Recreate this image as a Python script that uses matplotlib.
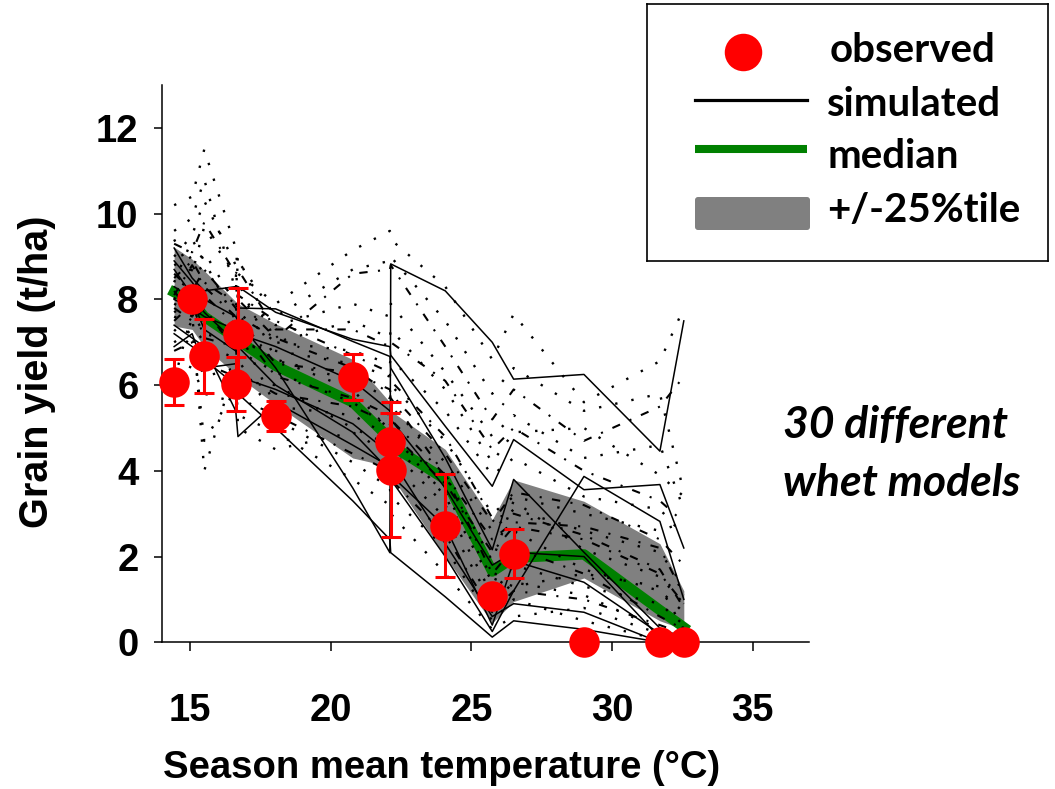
import numpy as np
import matplotlib
matplotlib.use("Agg")
import matplotlib.pyplot as plt
from matplotlib.patches import FancyBboxPatch

# site temperatures (sorted) and observed yields
temp = [14.43, 15.07, 15.5, 16.62, 16.7, 18.04, 20.78, 22.1, 22.13, 24.07, 25.74, 26.5, 29.0, 31.7, 32.55]
obs = [6.07, 8.0, 6.68, 6.02, 7.19, 5.28, 6.19, 4.68, 4.03, 2.72, 1.09, 2.07, 0.0, 0.0, 0.0]
obs_err = [0.54, 0.0, 0.86, 0.63, 1.07, 0.34, 0.53, 0.68, 1.57, 1.2, 0.0, 0.58, 0.0, 0.0, 0.0]

# median and +/-25 percentile band of the models
median = [8.17, 7.95, 7.6, 7.1, 7.05, 6.45, 5.6, 4.75, 4.6, 3.8, 1.65, 1.97, 2.05, 0.75, 0.35]
band_hi = [9.22, 8.94, 8.67, 7.95, 7.9, 7.43, 6.6, 5.6, 5.4, 4.5, 2.86, 3.79, 3.29, 2.3, 1.2]
band_lo = [7.38, 7.3, 6.9, 6.25, 6.2, 5.55, 4.3, 4.1, 3.9, 2.0, 0.45, 0.95, 1.5, 0.5, 0.3]

# 30 simulated models
sim_solid = [
    [8.9, 8.4, 8.0, 7.6, 7.5, 6.4, 3.6, 2.09, 8.83, 8.2, 7.0, 6.14, 6.25, 4.46, 7.5],
    [9.2, 8.5, 8.2, 8.3, 8.3, 7.7, 7.07, 6.9, 6.7, 5.04, 3.64, 4.73, 3.56, 3.68, 2.2],
    [8.0, 7.8, 7.6, 7.3, 7.8, 7.78, 7.02, 6.67, 6.4, 4.3, 2.16, 3.8, 2.1, 0.33, 0.1],
    [7.2, 6.9, 6.6, 6.0, 5.8, 5.0, 3.3, 2.4, 2.09, 1.06, 0.12, 0.5, 0.3, 0.0, 0.0],
    [8.3, 8.0, 7.3, 6.8, 6.9, 6.0, 4.9, 4.0, 3.8, 2.0, 0.25, 1.2, 3.87, 2.82, 1.0],
    [8.7, 8.1, 7.7, 7.0, 7.2, 6.9, 6.1, 5.4, 5.2, 3.6, 1.8, 2.1, 2.0, 0.1, 0.0],
    [7.4, 7.1, 6.9, 5.4, 4.8, 5.6, 4.6, 4.1, 3.9, 2.7, 0.4, 1.9, 1.4, 0.2, 0.1],
    [6.9, 7.2, 6.4, 6.5, 6.2, 5.9, 5.1, 4.4, 4.3, 2.3, 0.6, 0.9, 0.7, 0.0, 0.0],
]
sim_dotted = [
    [10.2, 10.4, 11.5, 9.2, 8.6, 7.9, 9.15, 9.6, 9.4, 8.3, 6.6, 7.66, 5.6, 6.56, 7.8],
    [9.6, 9.9, 10.8, 8.2, 8.9, 7.6, 8.7, 8.9, 9.0, 7.5, 5.8, 6.4, 5.4, 5.8, 3.5],
    [9.0, 9.5, 10.3, 8.8, 8.0, 7.4, 7.9, 7.6, 7.9, 6.3, 4.8, 5.3, 4.3, 4.6, 3.1],
    [8.0, 8.7, 9.1, 7.9, 7.7, 7.0, 7.5, 7.1, 7.3, 5.9, 4.2, 4.9, 5.0, 3.9, 3.4],
    [6.1, 7.7, 4.0, 6.5, 5.0, 4.5, 4.9, 4.4, 4.2, 2.9, 0.9, 1.4, 1.1, 0.3, 0.2],
    [8.8, 9.0, 8.6, 8.1, 8.4, 6.6, 6.1, 5.7, 5.5, 4.2, 2.6, 3.1, 2.6, 2.1, 1.3],
    [7.0, 7.3, 4.7, 5.9, 6.6, 5.2, 4.2, 3.6, 3.4, 2.2, 0.5, 1.0, 0.5, 0.05, 0.1],
    [7.7, 8.0, 7.4, 7.2, 6.1, 6.0, 5.0, 4.6, 4.5, 3.2, 1.1, 1.8, 1.3, 0.9, 0.4],
    [8.4, 9.4, 8.9, 7.5, 7.0, 6.8, 6.5, 6.2, 6.0, 4.7, 3.0, 3.4, 3.0, 2.6, 2.8],
    [6.6, 6.4, 5.8, 5.6, 5.3, 4.9, 3.8, 3.2, 3.0, 1.6, 0.3, 0.6, 0.8, 0.2, 0.0],
    [9.4, 8.6, 9.7, 8.5, 9.0, 7.0, 6.8, 6.5, 6.6, 5.4, 3.9, 4.3, 3.4, 3.1, 2.5],
    [7.3, 6.9, 6.2, 6.4, 7.3, 5.5, 5.3, 4.8, 4.9, 3.4, 1.4, 2.6, 1.7, 1.2, 0.7],
    [7.6, 7.4, 7.0, 6.6, 6.8, 6.3, 5.6, 5.0, 4.6, 3.5, 1.5, 1.3, 1.6, 1.3, 0.3],
    [7.9, 7.7, 7.2, 7.0, 7.1, 6.6, 5.9, 4.9, 4.7, 3.9, 1.9, 3.3, 2.16, 1.53, 0.9],
]
sim_dashdot = [
    [8.1, 8.8, 8.3, 7.6, 8.0, 7.1, 8.6, 8.7, 8.8, 6.9, 5.2, 5.9, 4.7, 5.5, 6.2],
    [7.5, 7.9, 7.1, 6.9, 6.3, 5.8, 5.5, 5.1, 4.9, 3.7, 2.1, 2.7, 2.4, 1.6, 0.9],
    [8.6, 8.2, 8.7, 7.8, 7.6, 6.5, 6.3, 5.9, 5.8, 4.4, 2.8, 3.5, 3.2, 2.4, 1.8],
    [6.8, 7.0, 6.5, 6.2, 5.7, 5.3, 4.4, 4.0, 3.8, 2.5, 0.7, 1.2, 1.0, 0.4, 0.2],
    [9.3, 9.1, 9.8, 8.6, 8.7, 7.3, 7.3, 6.9, 7.0, 6.1, 4.5, 5.0, 4.0, 3.3, 2.8],
    [7.8, 7.5, 7.8, 6.8, 7.4, 6.2, 5.7, 5.3, 5.2, 3.9, 1.6, 2.2, 1.6, 0.6, 0.3],
    [8.5, 8.9, 8.4, 7.9, 8.1, 7.5, 6.7, 6.3, 6.1, 4.8, 2.9, 3.0, 2.5, 1.7, 0.8],
    [8.2, 7.6, 8.1, 7.4, 7.6, 7.1, 6.4, 5.8, 5.7, 3.9, 2.4, 2.8, 2.7, 2.2, 1.1],
]

axis_font = "Liberation Sans"
note_font = "Lato"

fig = plt.figure(figsize=(10.55, 7.89), dpi=100)
ax = fig.add_axes([0.1536, 0.186, 0.6132, 0.706])

ax.fill_between(temp, band_lo, band_hi, color="#808080", lw=0, zorder=1)
ax.plot(temp, median, color="#008000", lw=7.5, solid_capstyle="projecting", zorder=2)

for y in sim_solid:
    ax.plot(temp, y, color="black", lw=1.1, zorder=3)
for y in sim_dotted:
    ax.plot(temp, y, color="black", lw=1.7, ls=(0, (1, 6)), dash_capstyle="butt", zorder=3)
for y in sim_dashdot:
    ax.plot(temp, y, color="black", lw=1.5, ls=(0, (4, 5, 1, 5)), dash_capstyle="butt", zorder=3)

# observed with error bars
has_err = [e > 0 for e in obs_err]
ax.errorbar([t for t, h in zip(temp, has_err) if h], [o for o, h in zip(obs, has_err) if h],
            yerr=[e for e, h in zip(obs_err, has_err) if h], fmt="none", ecolor="red",
            elinewidth=2.2, capsize=7, capthick=2.2, zorder=4, clip_on=False)
ax.plot(temp, obs, "o", color="red", ms=22, mec="none", zorder=5, clip_on=False)

ax.set_xlim(14, 37)
ax.set_ylim(0, 13)
ax.set_xticks([15, 20, 25, 30, 35])
ax.set_yticks([0, 2, 4, 6, 8, 10, 12])
for s in ["top", "right"]:
    ax.spines[s].set_visible(False)
for s in ["left", "bottom"]:
    ax.spines[s].set_linewidth(1.1)
ax.tick_params(axis="y", direction="out", length=6, width=1.1, pad=11)
ax.tick_params(axis="x", direction="out", length=6.5, width=1.1, pad=30)
for lab in ax.get_xticklabels() + ax.get_yticklabels():
    lab.set_fontfamily(axis_font)
    lab.set_fontweight("bold")
    lab.set_fontsize(27.5)

fig.text(442 / 1055, 1 - 768 / 789, "Season mean temperature (°C)", ha="center", va="center",
         fontsize=27.5, fontweight="bold", family=axis_font)
fig.text(37 / 1055, 1 - 372 / 789, "Grain yield (t/ha)", ha="center", va="center", rotation=90,
         fontsize=28.5, fontweight="bold", family=axis_font)

fig.text(783 / 1055, 1 - 425 / 789, "30 different", ha="left", va="center", fontsize=32,
         fontweight="bold", style="italic", family=note_font)
fig.text(783 / 1055, 1 - 483 / 789, "whet models", ha="left", va="center", fontsize=32,
         fontweight="bold", style="italic", family=note_font)

# legend box
lax = fig.add_axes([647 / 1055, 1 - 261 / 789, 401 / 1055, 257 / 789])
lax.set_xlim(0, 401)
lax.set_ylim(257, 0)
lax.set_xticks([])
lax.set_yticks([])
for s in lax.spines.values():
    s.set_linewidth(1.2)
lax.plot([96], [48], "o", color="red", ms=27, mec="none")
lax.plot([48, 160], [96, 96], color="black", lw=2.3)
lax.plot([48, 160], [145, 145], color="#008000", lw=5.8, solid_capstyle="butt")
lax.add_patch(FancyBboxPatch((48, 193), 115, 33, boxstyle="round,pad=0,rounding_size=3",
                             fc="#808080", ec="none"))
leg_labels = ["observed", "simulated", "median", "+/-25%tile"]
leg_x = [183, 180, 180, 180]
leg_y = [46, 100, 153, 206]
for lx, ly, txt in zip(leg_x, leg_y, leg_labels):
    lax.text(lx, ly, txt, ha="left", va="center", fontsize=29, fontweight="bold", family=note_font)

fig.savefig("out.png", dpi=100)
